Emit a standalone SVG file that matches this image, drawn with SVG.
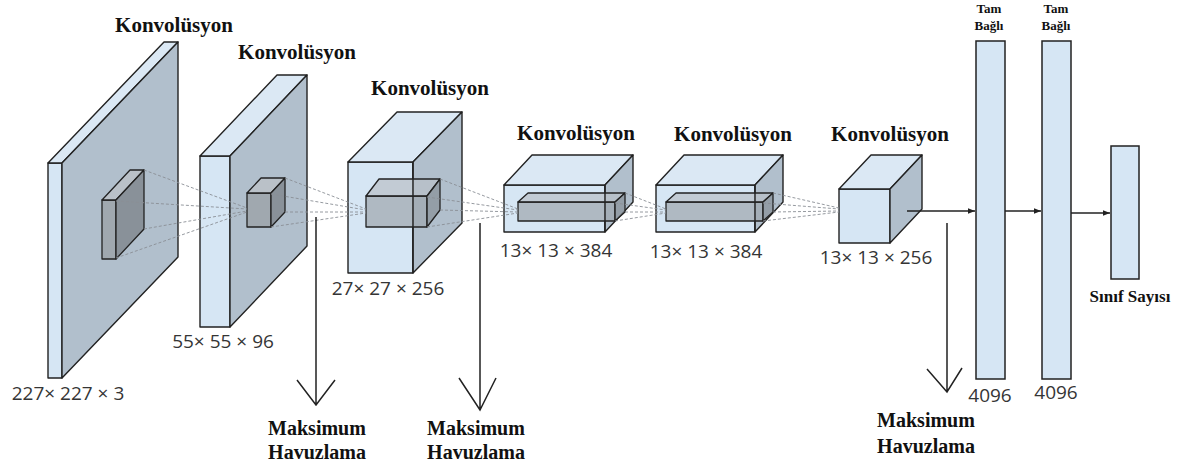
<svg xmlns="http://www.w3.org/2000/svg" width="1186" height="470" viewBox="0 0 1186 470">
  <style>
    .face-front { fill: #d6e6f4; stroke: #222; stroke-width: 1.4; stroke-linejoin: round; }
    .face-top { fill: #dbe8f4; stroke: #222; stroke-width: 1.4; stroke-linejoin: round; }
    .face-side { fill: #b1bfcc; stroke: #222; stroke-width: 1.4; stroke-linejoin: round; }
    .k-front { fill: #a0a8af; stroke: #222; stroke-width: 1.3; stroke-linejoin: round; }
    .k-top { fill: #bac1c8; stroke: #222; stroke-width: 1.3; stroke-linejoin: round; }
    .k-side { fill: #899199; stroke: #222; stroke-width: 1.3; stroke-linejoin: round; }
    .translucent { fill-opacity: 0.72; }
    .edge { fill: none; stroke: #222; stroke-width: 1.3; }
    .fc { fill: #d6e6f4; stroke: #222; stroke-width: 1.5; }
    .proj { fill: none; stroke: #8a8f95; stroke-width: 0.9; stroke-dasharray: 3 2; }
    .flow { fill: none; stroke: #222; stroke-width: 1.4; }
    .pool { fill: none; stroke: #222; stroke-width: 1.5; }
    .title { font-family: "Liberation Serif", "Times New Roman", serif; font-weight: bold; font-size: 21px; fill: #111; text-anchor: middle; }
    .pool-label { font-family: "Liberation Serif", "Times New Roman", serif; font-weight: bold; font-size: 20px; fill: #111; text-anchor: middle; }
    .small-label { font-family: "Liberation Serif", "Times New Roman", serif; font-weight: bold; font-size: 13px; fill: #111; text-anchor: middle; }
    .out-label { font-family: "Liberation Serif", "Times New Roman", serif; font-weight: bold; font-size: 17px; fill: #111; text-anchor: middle; }
    .dim { font-family: "Open Sans", "Liberation Sans", sans-serif; font-size: 19px; fill: #353535; text-anchor: middle; }
  </style>
  <defs>
    <marker id="arrowhead" viewBox="0 0 10 10" refX="10" refY="5" markerWidth="7" markerHeight="7" orient="auto" markerUnits="userSpaceOnUse">
      <path d="M0,1 L10,5 L0,9 Z" fill="#222"/>
    </marker>
  </defs>

  <rect width="1186" height="470" fill="#ffffff"/>

  <!-- input volume 227x227x3 with its kernel -->
  <g id="layer-input">
    <polygon class="face-front" points="48,163 62,163 62,378 48,378"/>
    <polygon class="face-top" points="48,163 164,42 178,42 62,163"/>
    <polygon class="face-side" points="62,163 178,42 178,257 62,378"/>
    <polygon class="k-front" points="102,200 116,200 116,259 102,259"/>
    <polygon class="k-top" points="102,200 130,170 144,170 116,200"/>
    <polygon class="k-side" points="116,200 144,170 144,229 116,259"/>
    <text class="title" x="174" y="32">Konvolüsyon</text>
    <text class="dim" x="68" y="400">227× 227 × 3</text>
  </g>

  <!-- conv 1: 55x55x96 -->
  <g id="layer-conv1">
    <polygon class="face-front" points="200,156 230,156 230,327 200,327"/>
    <polygon class="face-top" points="200,156 277,75 307,75 230,156"/>
    <polygon class="face-side" points="230,156 307,75 307,246 230,327"/>
    <polygon class="k-front" points="247,193 271,193 271,227 247,227"/>
    <polygon class="k-top" points="247,193 261,178 285,178 271,193"/>
    <polygon class="k-side" points="271,193 285,178 285,212 271,227"/>
    <text class="title" x="297" y="59">Konvolüsyon</text>
    <text class="dim" x="223" y="348">55× 55 × 96</text>
  </g>

  <!-- conv 2: 27x27x256 -->
  <g id="layer-conv2">
    <polygon class="face-front" points="348,162 413,162 413,273 348,273"/>
    <polygon class="face-top" points="348,162 397,112 462,112 413,162"/>
    <polygon class="face-side" points="413,162 462,112 462,223 413,273"/>
    <g class="translucent">
      <polygon class="k-front" points="366,196 427,196 427,227 366,227"/>
      <polygon class="k-top" points="366,196 379,179 440,179 427,196"/>
      <polygon class="k-side" points="427,196 440,179 440,210 427,227"/>
    </g>
    <line class="edge" x1="413" y1="162" x2="413" y2="273"/>
    <text class="title" x="430" y="95">Konvolüsyon</text>
    <text class="dim" x="388" y="295">27× 27 × 256</text>
  </g>

  <!-- conv 3: 13x13x384 -->
  <g id="layer-conv3">
    <polygon class="face-front" points="504,185 605,185 605,232 504,232"/>
    <polygon class="face-top" points="504,185 532,155 633,155 605,185"/>
    <polygon class="face-side" points="605,185 633,155 633,202 605,232"/>
    <g class="translucent">
      <polygon class="k-front" points="518,202 615,202 615,221 518,221"/>
      <polygon class="k-top" points="518,202 528,193 625,193 615,202"/>
      <polygon class="k-side" points="615,202 625,193 625,212 615,221"/>
    </g>
    <line class="edge" x1="605" y1="185" x2="605" y2="232"/>
    <text class="title" x="576" y="140">Konvolüsyon</text>
    <text class="dim" x="556" y="257">13× 13 × 384</text>
  </g>

  <!-- conv 4: 13x13x384 -->
  <g id="layer-conv4">
    <polygon class="face-front" points="656,185 755,185 755,232 656,232"/>
    <polygon class="face-top" points="656,185 684,155 783,155 755,185"/>
    <polygon class="face-side" points="755,185 783,155 783,202 755,232"/>
    <g class="translucent">
      <polygon class="k-front" points="666,202 763,202 763,221 666,221"/>
      <polygon class="k-top" points="666,202 676,193 773,193 763,202"/>
      <polygon class="k-side" points="763,202 773,193 773,212 763,221"/>
    </g>
    <line class="edge" x1="755" y1="185" x2="755" y2="232"/>
    <text class="title" x="733" y="141">Konvolüsyon</text>
    <text class="dim" x="706" y="258">13× 13 × 384</text>
  </g>

  <!-- conv 5: 13x13x256 -->
  <g id="layer-conv5">
    <polygon class="face-front" points="839,189 890,189 890,243 839,243"/>
    <polygon class="face-top" points="839,189 871,155 922,155 890,189"/>
    <polygon class="face-side" points="890,189 922,155 922,209 890,243"/>
    <text class="title" x="890" y="141">Konvolüsyon</text>
    <text class="dim" x="876" y="264">13× 13 × 256</text>
  </g>

  <!-- fully connected layers -->
  <g id="layer-fc1">
    <rect class="fc" x="976" y="41" width="29" height="338"/>
    <text class="small-label" x="989" y="13">Tam</text>
    <text class="small-label" x="989" y="30">Bağlı</text>
    <text class="dim" x="990" y="402">4096</text>
  </g>
  <g id="layer-fc2">
    <rect class="fc" x="1042" y="41" width="29" height="338"/>
    <text class="small-label" x="1056" y="13">Tam</text>
    <text class="small-label" x="1056" y="30">Bağlı</text>
    <text class="dim" x="1056" y="399">4096</text>
  </g>
  <g id="layer-output">
    <rect class="fc" x="1111" y="146" width="28" height="133"/>
    <text class="out-label" x="1130" y="302">Sınıf Sayısı</text>
  </g>

  <!-- max pooling annotations -->
  <g id="pool-1">
    <text class="pool-label" x="317" y="435">Maksimum</text>
    <text class="pool-label" x="317" y="459">Havuzlama</text>
  </g>
  <g id="pool-2">
    <text class="pool-label" x="476" y="435">Maksimum</text>
    <text class="pool-label" x="476" y="459">Havuzlama</text>
  </g>
  <g id="pool-3">
    <text class="pool-label" x="926" y="427">Maksimum</text>
    <text class="pool-label" x="926" y="453">Havuzlama</text>
  </g>

  <!-- connectors: kernel projections, pooling arrows, dense flow -->
  <g id="connectors">
    <path class="proj" d="M144,170 L247,208 M116,201 L247,209 M144,229 L247,211 M116,258 L247,212"/>
    <path class="proj" d="M285,178 L366,209 M271,194 L366,210 M285,212 L366,212 M271,227 L366,213"/>
    <path class="proj" d="M440,179 L518,209 M427,197 L518,210 M440,210 L518,212 M427,227 L518,213"/>
    <path class="proj" d="M625,193 L666,209 M615,203 L666,210 M625,212 L666,212 M615,221 L666,213"/>
    <path class="proj" d="M773,193 L839,208 M763,203 L839,209 M773,212 L839,211 M763,221 L839,212"/>

    <path class="pool" d="M316,217 L316,405 M297,380 L316,405 L335,380"/>
    <path class="pool" d="M480,223 L480,410 M459,378 L480,410 L496,378"/>
    <path class="pool" d="M947,223 L947,392 M927,369 L947,392 L962,368"/>

    <line class="flow" x1="907" y1="211" x2="975" y2="211" marker-end="url(#arrowhead)"/>
    <line class="flow" x1="1005" y1="211" x2="1041" y2="211" marker-end="url(#arrowhead)"/>
    <line class="flow" x1="1071" y1="213" x2="1110" y2="213" marker-end="url(#arrowhead)"/>
  </g>
</svg>
